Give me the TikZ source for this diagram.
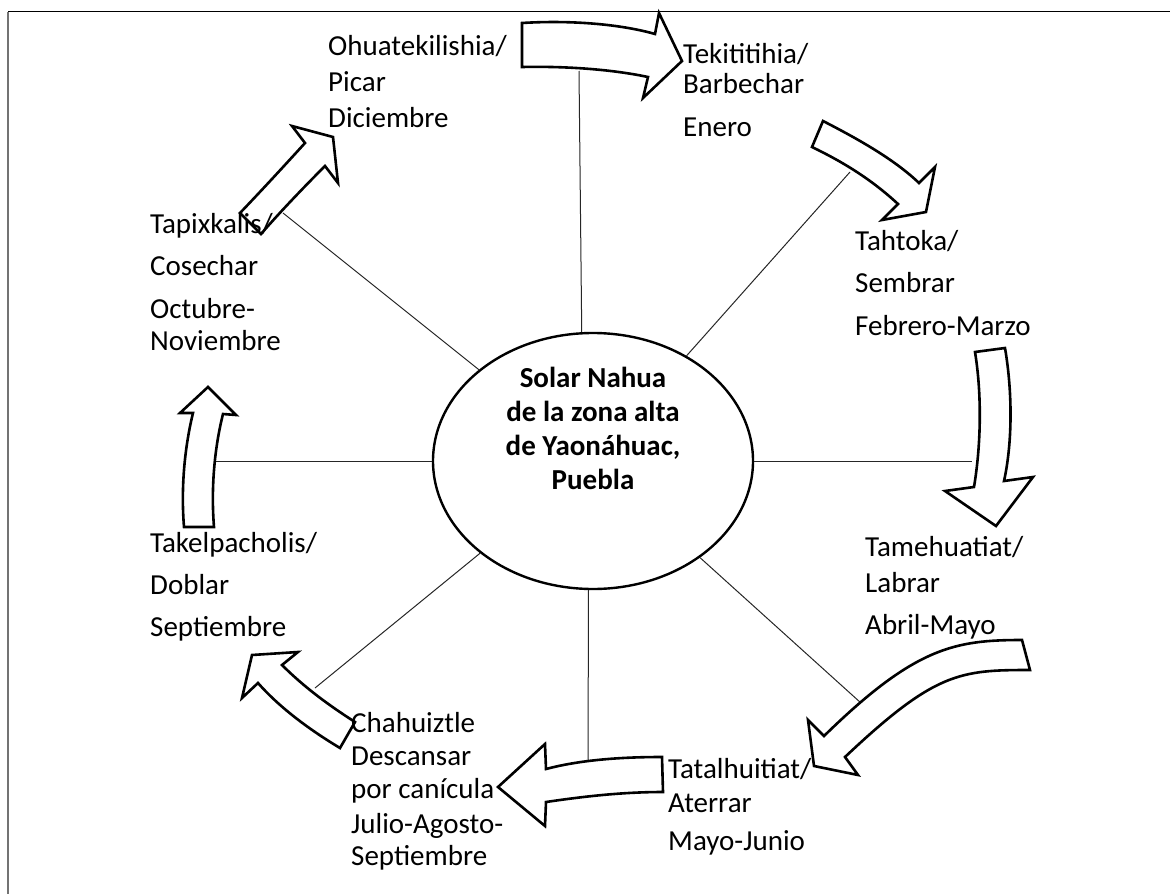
\documentclass[tikz,border=0pt]{standalone}
\usepackage{fontspec}
\setmainfont{Carlito}
\usetikzlibrary{shapes.geometric}
\begin{document}
\begin{tikzpicture}[x=1pt,y=-1pt,
  lbl/.style={anchor=base west, inner sep=0pt, font=\fontsize{29}{33}\selectfont},
  blk/.style={draw=black, line width=2.6pt, fill=white, line join=miter},
  spoke/.style={draw=black!85, line width=1pt},
  frame/.style={line width=1.2pt}]
\useasboundingbox (0,0) rectangle (1170,894);
% frame
\draw[frame,draw=black!55] (8,894) -- (8,11.5);
\draw[frame] (8,11.5) -- (1170,11.5);
% centre
\node[ellipse, draw, line width=2.4pt, minimum width=320pt, minimum height=256pt, inner sep=0pt] (c) at (593,461) {};
\node[align=center, inner sep=0pt, font=\bfseries\fontsize{29}{34}\selectfont] (ct) at (593,428) {Solar Nahua\\de la zona alta\\de Yaon\'ahuac,\\Puebla};
% spoke ends
\coordinate (s1) at (579,71);
\coordinate (s2) at (850,172);
\coordinate (s3) at (972,461);
\coordinate (s4) at (861,703);
\coordinate (s5) at (588,762);
\coordinate (s6) at (315,688);
\coordinate (s7) at (215,461);
\coordinate (s8) at (283,213);
\draw[spoke] (c.95) -- (s1);
\draw[spoke] (c) -- (s2);
\draw[spoke] (c.east) -- (s3);
\draw[spoke] (c) -- (s4);
\draw[spoke] (c.268) -- (s5);
\draw[spoke] (c) -- (s6);
\draw[spoke] (c.west) -- (s7);
\draw[spoke] (c) -- (s8);
% arrows
\draw[blk] (522,23) .. controls (570,20) and (620,24) .. (655,34) -- (659,13) -- (682,61) -- (643,98) -- (648,77) .. controls (615,70) and (570,66) .. (522,67) -- cycle;
\draw[blk] (823,121) .. controls (860,140) and (895,160) .. (919,183) -- (935,167) -- (926,212) -- (882,220) -- (898,204) .. controls (872,180) and (845,163) .. (812,147) -- cycle;
\draw[blk] (975,352) -- (1005,348) .. controls (1013,395) and (1012,445) .. (1004,481) -- (1033,477) -- (996,526) -- (945,491) -- (974,487) .. controls (981,445) and (982,395) .. (975,352) -- cycle;
\draw[blk] (1022,640) -- (1030,670) .. controls (960,670) and (935,672) .. (845,757) -- (858,775) -- (814,766) -- (808,720) -- (824,736) .. controls (915,647) and (955,640) .. (1022,640) -- cycle;
\draw[blk] (662,757) -- (663,792) .. controls (620,792) and (580,797) .. (546,802) -- (545,826) -- (498,787) -- (545,744) -- (546,769) .. controls (580,760) and (620,757) .. (662,757) -- cycle;
\draw[blk] (355,722) -- (340,748) .. controls (310,730) and (280,708) .. (258,683) -- (242,698) -- (252,655) -- (298,652) -- (282,665) .. controls (305,688) and (330,706) .. (355,722) -- cycle;
\draw[blk] (184,527) -- (214,527) .. controls (211,490) and (214,450) .. (223,414) -- (236,415) -- (208,387) -- (180,413) -- (193,413) .. controls (184,450) and (181,490) .. (184,527) -- cycle;
\draw[blk] (240,213) -- (261,234) .. controls (280,212) and (305,186) .. (325,166) -- (338,183) -- (333,137) -- (292,126) -- (305,143) .. controls (285,165) and (262,190) .. (240,213) -- cycle;
% labels
\node[lbl] (a1) at (328,55) {Ohuatekilishia/};
\node[lbl] (a2) at (328,91) {Picar};
\node[lbl] (a3) at (328,127) {Diciembre};
\node[lbl] (b1) at (683,63) {Tekititihia/};
\node[lbl] (b2) at (683,93) {Barbechar};
\node[lbl] (b3) at (683,136) {Enero};
\node[lbl] (c1) at (855,250) {Tahtoka/};
\node[lbl] (c2) at (855,292) {Sembrar};
\node[lbl] (c3) at (855,335) {Febrero-Marzo};
\node[lbl] (d1) at (865,556) {Tamehuatiat/};
\node[lbl] (d2) at (865,592) {Labrar};
\node[lbl] (d3) at (865,634) {Abril-Mayo};
\node[lbl] (e1) at (668,778) {Tatalhuitiat/};
\node[lbl] (e2) at (668,812) {Aterrar};
\node[lbl] (e3) at (668,850) {Mayo-Junio};
\node[lbl] (f1) at (351,732) {Chahuiztle};
\node[lbl] (f2) at (351,765) {Descansar};
\node[lbl] (f3) at (351,798) {por can\'icula};
\node[lbl] (f4) at (351,833) {Julio-Agosto-};
\node[lbl] (f5) at (351,865) {Septiembre};
\node[lbl] (g1) at (150,552) {Takelpacholis/};
\node[lbl] (g2) at (150,594) {Doblar};
\node[lbl] (g3) at (150,636) {Septiembre};
\node[lbl] (h1) at (150,233) {Tapixkalis/};
\node[lbl] (h2) at (150,275) {Cosechar};
\node[lbl] (h3) at (150,318) {Octubre-};
\node[lbl] (h4) at (150,350) {Noviembre};
\end{tikzpicture}
\end{document}
